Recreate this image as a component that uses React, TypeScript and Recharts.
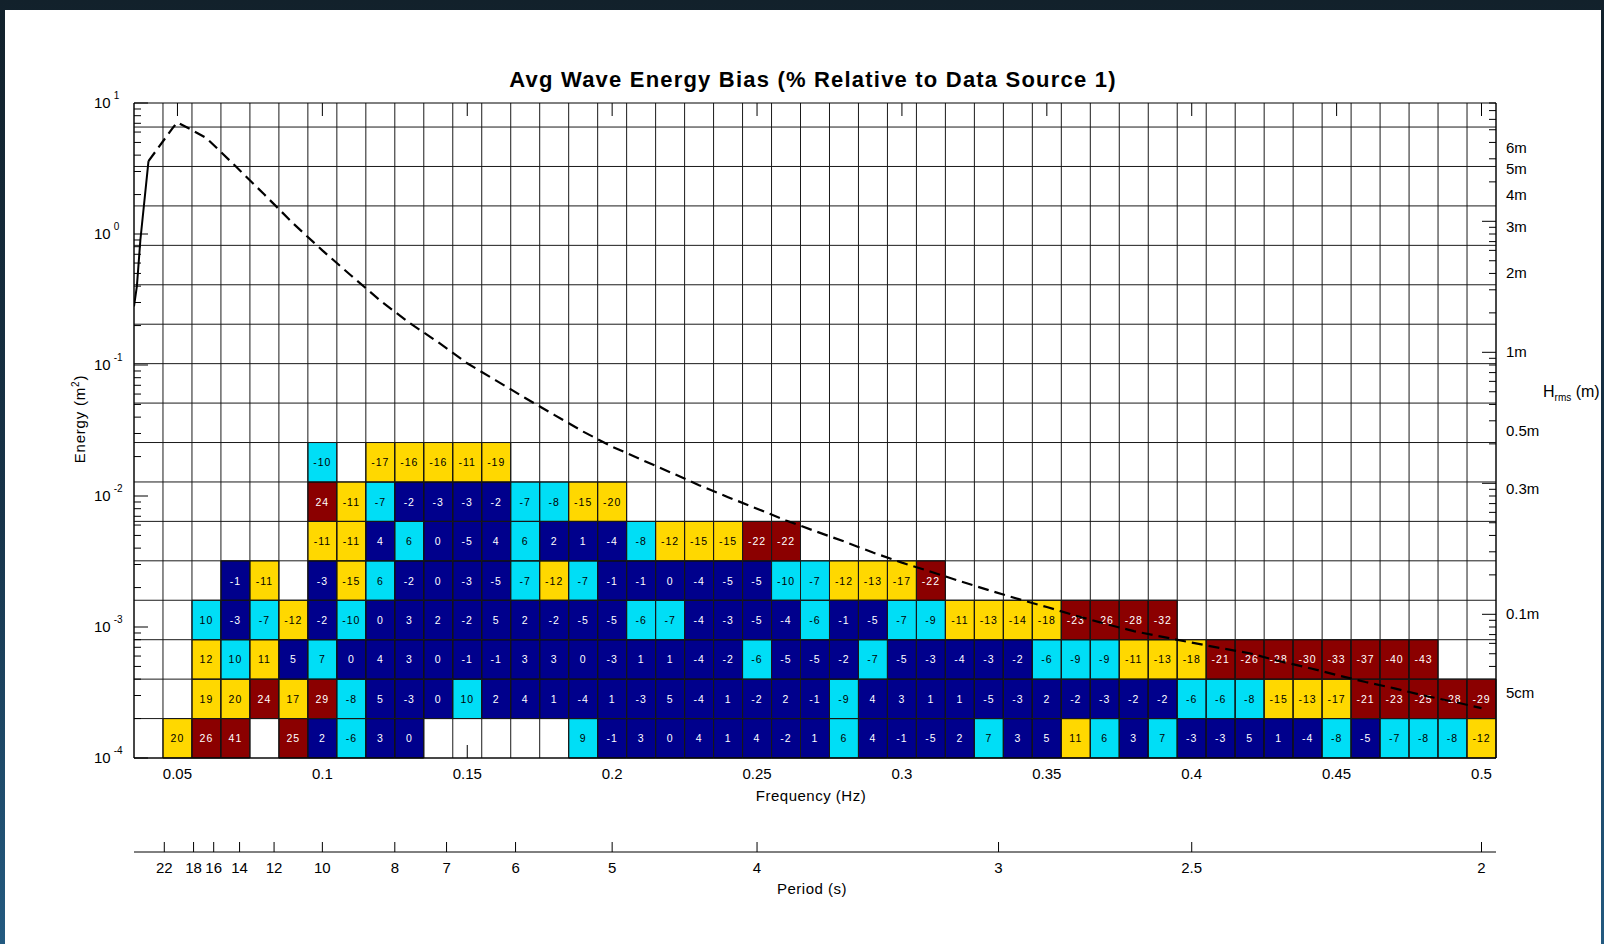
import React from 'react';
import { ComposedChart, XAxis, YAxis, Line, ReferenceArea, ReferenceLine } from 'recharts';

const FONT = "'Liberation Sans', Arial, Helvetica, sans-serif";
const _ = null;

// Frequency bin centres (Hz) of the bias cells
const cellFreq = [0.05, 0.06, 0.07, 0.08, 0.09, 0.1, 0.11, 0.12, 0.13, 0.14, 0.15, 0.16, 0.17, 0.18, 0.19, 0.2,
  0.21, 0.22, 0.23, 0.24, 0.25, 0.26, 0.27, 0.28, 0.29, 0.3, 0.31, 0.32, 0.33, 0.34, 0.35, 0.36, 0.37, 0.38,
  0.39, 0.4, 0.41, 0.42, 0.43, 0.44, 0.45, 0.46, 0.47, 0.48, 0.49, 0.5];
const cellHalfWidth = 0.005;

// Energy bin edges (m^2), bottom row first
const energyEdges = [0.0001, 0.0002, 0.0004, 0.0008, 0.0016, 0.0032, 0.0064, 0.0128, 0.0256];

const pad = (a: (number | null)[]) => a.concat(new Array(46 - a.length).fill(null));

// Bias (%) per energy row, one entry per frequency bin
const row0 = pad([20, 26, 41, _, 25, 2, -6, 3, 0, _, _, _, _, _, 9, -1, 3, 0, 4, 1, 4, -2, 1, 6, 4, -1, -5, 2, 7, 3, 5, 11, 6, 3, 7, -3, -3, 5, 1, -4, -8, -5, -7, -8, -8, -12]);
const row1 = pad([_, 19, 20, 24, 17, 29, -8, 5, -3, 0, 10, 2, 4, 1, -4, 1, -3, 5, -4, 1, -2, 2, -1, -9, 4, 3, 1, 1, -5, -3, 2, -2, -3, -2, -2, -6, -6, -8, -15, -13, -17, -21, -23, -25, -28, -29]);
const row2 = pad([_, 12, 10, 11, 5, 7, 0, 4, 3, 0, -1, -1, 3, 3, 0, -3, 1, 1, -4, -2, -6, -5, -5, -2, -7, -5, -3, -4, -3, -2, -6, -9, -9, -11, -13, -18, -21, -26, -28, -30, -33, -37, -40, -43]);
const row3 = pad([_, 10, -3, -7, -12, -2, -10, 0, 3, 2, -2, 5, 2, -2, -5, -5, -6, -7, -4, -3, -5, -4, -6, -1, -5, -7, -9, -11, -13, -14, -18, -23, -26, -28, -32]);
const row4 = pad([_, _, -1, -11, _, -3, -15, 6, -2, 0, -3, -5, -7, -12, -7, -1, -1, 0, -4, -5, -5, -10, -7, -12, -13, -17, -22]);
const row5 = pad([_, _, _, _, _, -11, -11, 4, 6, 0, -5, 4, 6, 2, 1, -4, -8, -12, -15, -15, -22, -22]);
const row6 = pad([_, _, _, _, _, 24, -11, -7, -2, -3, -3, -2, -7, -8, -15, -20]);
const row7 = pad([_, _, _, _, _, -10, _, -17, -16, -16, -11, -19]);
const biasRows = [row0, row1, row2, row3, row4, row5, row6, row7];

// Reference spectrum
const specFreq = [0.035, 0.036, 0.0372, 0.04, 0.0487, 0.05, 0.0545, 0.06, 0.07, 0.08, 0.09, 0.1, 0.11, 0.12,
  0.13, 0.14, 0.15, 0.16, 0.17, 0.18, 0.19, 0.2, 0.21, 0.22, 0.23, 0.24, 0.25, 0.26, 0.27, 0.28, 0.29, 0.3,
  0.31, 0.32, 0.33, 0.34, 0.35, 0.36, 0.37, 0.38, 0.39, 0.4, 0.41, 0.42, 0.43, 0.44, 0.45, 0.46, 0.47, 0.48,
  0.49, 0.5];
const specEnergy = [0.28, 0.4, 0.9, 3.6, 6.6, 7.1, 6.3, 5.4, 3.3, 2.0, 1.2, 0.75, 0.48, 0.31, 0.21, 0.149,
  0.103, 0.076, 0.056, 0.0416, 0.031, 0.0238, 0.019, 0.0152, 0.0121, 0.0098, 0.008, 0.0065, 0.0054, 0.0045,
  0.0037, 0.0031, 0.00264, 0.00224, 0.00191, 0.00164, 0.00142, 0.00122, 0.00106, 0.00093, 0.00084, 0.00076,
  0.00069, 0.00063, 0.00055, 0.00049, 0.00043, 0.00038, 0.00034, 0.0003, 0.00027, 0.00024];
const solidLastIndex = 3;

const freqTicks = [0.05, 0.1, 0.15, 0.2, 0.25, 0.3, 0.35, 0.4, 0.45, 0.5];
const freqTickLabels = ['0.05', '0.1', '0.15', '0.2', '0.25', '0.3', '0.35', '0.4', '0.45', '0.5'];
const periodLabels = ['22', '18', '16', '14', '12', '10', '8', '7', '6', '5', '4', '3', '2.5', '2'];
const periodValues = [22, 18, 16, 14, 12, 10, 8, 7, 6, 5, 4, 3, 2.5, 2];
const hrmsLabels = ['6m', '5m', '4m', '3m', '2m', '1m', '0.5m', '0.3m', '0.1m', '5cm'];
const hrmsMeters = [6, 5, 4, 3, 2, 1, 0.5, 0.3, 0.1, 0.05];
const energyGrid = [0.0001, 0.0002, 0.0004, 0.0008, 0.0016, 0.0032, 0.0064, 0.0128, 0.0256, 0.0512, 0.1024,
  0.2048, 0.4096, 0.8192, 1.6384, 3.2768, 6.5536];

const X_DOMAIN: [number, number] = [0.035, 0.505];
const Y_DOMAIN: [number, number] = [0.0001, 10];

const NAVY = '#00008c';
const CYAN = '#00def6';
const YELLOW = '#ffd800';
const DARKRED = '#8b0000';

const binColor = (v: number) => {
  const a = Math.abs(v);
  if (a <= 5) return NAVY;
  if (a <= 10) return CYAN;
  if (a <= 20) return YELLOW;
  return DARKRED;
};
const textColor = (v: number) => {
  const c = binColor(v);
  return c === NAVY || c === DARKRED ? '#ffffff' : '#000000';
};

const close = (a: number, b: number) => Math.abs(Math.log10(a) - Math.log10(b)) < 1e-6;

const specData = specFreq.map((f, i) => ({
  f,
  solid: i <= solidLastIndex ? specEnergy[i] : undefined,
  dashed: i >= solidLastIndex ? specEnergy[i] : undefined,
}));

const gridFreq = [X_DOMAIN[0], ...cellFreq.map((f) => +(f - cellHalfWidth).toFixed(4)), X_DOMAIN[1]];

// axis layer sits below the data: hide tick marks that fall on a filled cell
const lastCol = cellFreq.length - 1;
const energyCovered = (e: number) =>
  biasRows.some((row, r) => row[lastCol] !== null && e >= energyEdges[r] - 1e-12 && e <= energyEdges[r + 1]);
const freqCovered = (f: number) =>
  cellFreq.some((c, k) => row0[k] !== null && Math.abs(c - f) < 1e-9);

const leftTicks: number[] = [];
for (let k = -4; k <= 0; k++) for (let m = 1; m <= 9; m++) leftTicks.push(+(m * Math.pow(10, k)).toPrecision(6));
leftTicks.push(10);

const hrmsEnergy = hrmsMeters.map((h) => (h * h) / 8);
const rightLineTicks: number[] = [];
for (let k = -4; k <= 1; k++)
  for (let m = 1; m <= 9; m++) {
    const e = +((m * Math.pow(10, k)) / 8).toPrecision(6);
    if (e >= Y_DOMAIN[0] - 1e-12 && e <= Y_DOMAIN[1] + 1e-9) rightLineTicks.push(e);
  }
const rightTicks = [...rightLineTicks];
hrmsEnergy.forEach((e) => {
  if (!rightTicks.some((t) => close(t, e))) rightTicks.push(e);
});
rightTicks.sort((a, b) => a - b);

const periodFreqs = periodValues.map((t) => 1 / t);

const FreqTick = (props: any) => {
  const { x, y, payload } = props;
  const i = freqTicks.findIndex((t) => Math.abs(t - payload.value) < 1e-9);
  return (
    <g>
      {!freqCovered(payload.value) && <line x1={x} x2={x} y1={y} y2={y - 13} stroke="#000" strokeWidth={1} />}
      <text x={x} y={y + 21} textAnchor="middle" fontSize={15} fontFamily={FONT} fill="#000">
        {i >= 0 ? freqTickLabels[i] : ''}
      </text>
    </g>
  );
};

const TopTick = (props: any) => {
  const { x, y } = props;
  return <line x1={x} x2={x} y1={y} y2={y + 13} stroke="#000" strokeWidth={1} />;
};

const PeriodTick = (props: any) => {
  const { x, y, payload } = props;
  const i = periodFreqs.findIndex((t) => Math.abs(t - payload.value) < 1e-9);
  return (
    <g>
      <line x1={x} x2={x} y1={y} y2={y - 10} stroke="#000" strokeWidth={1} />
      <text x={x} y={y + 21} textAnchor="middle" fontSize={15} fontFamily={FONT} fill="#000">
        {i >= 0 ? periodLabels[i] : ''}
      </text>
    </g>
  );
};

const LeftTick = (props: any) => {
  const { x, y, payload } = props;
  const lg = Math.log10(payload.value);
  const exp = Math.round(lg);
  const major = Math.abs(lg - exp) < 1e-6;
  return (
    <g>
      <line x1={x} x2={x + (major ? 14 : 7)} y1={y} y2={y} stroke="#000" strokeWidth={1} />
      {major && (
        <text x={x - 40} y={y + 5} fontSize={15} fontFamily={FONT} fill="#000">
          10
          <tspan dx={3} dy={-9} fontSize={10}>
            {String(exp)}
          </tspan>
        </text>
      )}
    </g>
  );
};

const RightTick = (props: any) => {
  const { x, y, payload } = props;
  const v = payload.value;
  const isLine = rightLineTicks.some((t) => close(t, v)) && !energyCovered(v);
  const lg8 = Math.log10(v * 8);
  const major = Math.abs(lg8 - Math.round(lg8)) < 1e-6;
  const li = hrmsEnergy.findIndex((e) => close(e, v));
  return (
    <g>
      {isLine && <line x1={x} x2={x - (major ? 14 : 7)} y1={y} y2={y} stroke="#000" strokeWidth={1} />}
      {li >= 0 && (
        <text x={x + 10} y={y + 5} fontSize={15} fontFamily={FONT} fill="#000">
          {hrmsLabels[li]}
        </text>
      )}
    </g>
  );
};

const cellLabel = (v: number) => (props: any) => {
  const vb = props.viewBox || props;
  const cx = vb.x + vb.width / 2;
  const cy = vb.y + vb.height / 2;
  return (
    <text
      x={cx}
      y={cy + 4}
      textAnchor="middle"
      fontSize={10.5}
      fontFamily={FONT}
      letterSpacing={1}
      fill={textColor(v)}
    >
      {String(v)}
    </text>
  );
};

export default function App() {
  const cells: React.ReactNode[] = [];
  biasRows.forEach((row, r) => {
    row.forEach((v, k) => {
      if (v === null || v === undefined) return;
      cells.push(
        <ReferenceArea
          key={`c-${r}-${k}`}
          xAxisId="freq"
          yAxisId="left"
          x1={cellFreq[k] - cellHalfWidth}
          x2={cellFreq[k] + cellHalfWidth}
          y1={energyEdges[r]}
          y2={energyEdges[r + 1]}
          fill={binColor(v)}
          fillOpacity={1}
          stroke="#000"
          strokeWidth={1}
          strokeOpacity={1}
          ifOverflow="visible"
          label={cellLabel(v)}
        />
      );
    });
  });

  return (
    <div
      style={{
        position: 'absolute',
        left: 0,
        top: 0,
        width: 1604,
        height: 944,
        background: 'linear-gradient(180deg, #12212b 0%, #17344a 55%, #235a80 100%)',
        overflow: 'hidden',
      }}
    >
      <div
        style={{
          position: 'absolute',
          left: 5,
          top: 10,
          width: 1596,
          height: 934,
          background: '#ffffff',
          overflow: 'hidden',
        }}
      >
        <div style={{ position: 'absolute', left: -5, top: -10, width: 1604, height: 944 }}>
          <ComposedChart
            width={1604}
            height={944}
            data={specData}
            margin={{ top: 102, right: 0, bottom: 0, left: 0 }}
          >
            <XAxis
              xAxisId="freq"
              type="number"
              dataKey="f"
              domain={X_DOMAIN}
              allowDataOverflow
              ticks={freqTicks}
              interval={0}
              tick={FreqTick}
              tickLine={false}
              tickSize={0}
              tickMargin={0}
              axisLine={{ stroke: '#000', strokeWidth: 1 }}
              height={94}
            />
            <XAxis
              xAxisId="period"
              type="number"
              dataKey="f"
              domain={X_DOMAIN}
              allowDataOverflow
              ticks={periodFreqs}
              interval={0}
              tick={PeriodTick}
              tickLine={false}
              tickSize={0}
              tickMargin={0}
              axisLine={{ stroke: '#000', strokeWidth: 1 }}
              height={92}
            />
            <XAxis
              xAxisId="top"
              orientation="top"
              type="number"
              dataKey="f"
              domain={X_DOMAIN}
              allowDataOverflow
              ticks={freqTicks}
              interval={0}
              tick={TopTick}
              tickLine={false}
              tickSize={0}
              tickMargin={0}
              axisLine={{ stroke: '#000', strokeWidth: 1 }}
              height={1}
            />
            <YAxis
              yAxisId="left"
              type="number"
              scale="log"
              domain={Y_DOMAIN}
              allowDataOverflow
              ticks={leftTicks}
              interval={0}
              tick={LeftTick}
              tickLine={false}
              tickSize={0}
              tickMargin={0}
              axisLine={{ stroke: '#000', strokeWidth: 1 }}
              width={134}
            />
            <YAxis
              yAxisId="right"
              orientation="right"
              type="number"
              scale="log"
              domain={Y_DOMAIN}
              allowDataOverflow
              ticks={rightTicks}
              interval={0}
              tick={RightTick}
              tickLine={false}
              tickSize={0}
              tickMargin={0}
              axisLine={{ stroke: '#000', strokeWidth: 1 }}
              width={108}
            />
            {gridFreq.map((f) => (
              <ReferenceLine
                key={`gx-${f}`}
                xAxisId="freq"
                yAxisId="left"
                x={f}
                stroke="#1a1a1a"
                strokeWidth={1}
                ifOverflow="visible"
              />
            ))}
            {energyGrid.map((e) => (
              <ReferenceLine
                key={`gy-${e}`}
                xAxisId="freq"
                yAxisId="left"
                y={e}
                stroke="#1a1a1a"
                strokeWidth={1}
                ifOverflow="visible"
              />
            ))}
            {cells}
            <Line
              xAxisId="freq"
              yAxisId="left"
              dataKey="solid"
              type="linear"
              stroke="#000"
              strokeWidth={2}
              dot={false}
              activeDot={false}
              isAnimationActive={false}
              connectNulls={false}
            />
            <Line
              xAxisId="freq"
              yAxisId="left"
              dataKey="dashed"
              type="linear"
              stroke="#000"
              strokeWidth={2.2}
              strokeDasharray="11 6"
              dot={false}
              activeDot={false}
              isAnimationActive={false}
              connectNulls={false}
            />
          </ComposedChart>
        </div>
        <svg
          width={1604}
          height={944}
          style={{ position: 'absolute', left: -5, top: -10, pointerEvents: 'none' }}
        >
          <text
            x={813}
            y={87}
            textAnchor="middle"
            fontSize={22}
            fontWeight="bold"
            fontFamily={FONT}
            letterSpacing={1.2}
            fill="#000"
          >
            Avg Wave Energy Bias (% Relative to Data Source 1)
          </text>
          <text x={811} y={801} textAnchor="middle" fontSize={15} fontFamily={FONT} letterSpacing={0.5} fill="#000">
            Frequency (Hz)
          </text>
          <text x={812} y={894} textAnchor="middle" fontSize={15} fontFamily={FONT} letterSpacing={0.5} fill="#000">
            Period (s)
          </text>
          <text
            transform="rotate(-90)"
            x={-419}
            y={85}
            textAnchor="middle"
            fontSize={15}
            fontFamily={FONT}
            letterSpacing={0.8}
            fill="#000"
          >
            Energy (m
            <tspan dy={-6} fontSize={10}>
              2
            </tspan>
            <tspan dy={6}>)</tspan>
          </text>
          <text x={1543} y={397} fontSize={16} fontFamily={FONT} fill="#000">
            H
            <tspan dy={4} fontSize={10}>
              rms
            </tspan>
            <tspan dy={-4}> (m)</tspan>
          </text>
        </svg>
      </div>
    </div>
  );
}
